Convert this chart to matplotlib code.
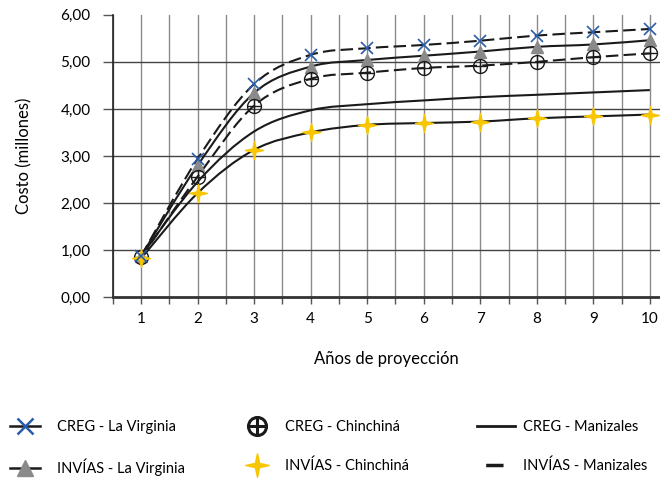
import numpy as np
import matplotlib
matplotlib.use('Agg')
from matplotlib import pyplot as plt
from matplotlib.path import Path
from matplotlib.patches import PathPatch
from matplotlib.lines import Line2D
from matplotlib.legend_handler import HandlerTuple

plt.rcParams['font.family'] = ['Lato', 'DejaVu Sans']

years = [1, 2, 3, 4, 5, 6, 7, 8, 9, 10]
creg_virginia = [0.87, 2.94, 4.53, 5.15, 5.29, 5.36, 5.45, 5.56, 5.63, 5.70]
invias_virginia = [0.87, 2.80, 4.34, 4.90, 5.04, 5.13, 5.22, 5.32, 5.37, 5.46]
creg_chinchina = [0.84, 2.56, 4.07, 4.64, 4.77, 4.87, 4.92, 5.00, 5.10, 5.18]
invias_chinchina = [0.82, 2.21, 3.13, 3.50, 3.66, 3.70, 3.73, 3.80, 3.84, 3.88]
creg_manizales = [0.87, 2.45, 3.52, 3.97, 4.10, 4.18, 4.25, 4.30, 4.35, 4.40]

ytick_labels = ['0,00', '1,00', '2,00', '3,00', '4,00', '5,00', '6,00']

blue = '#2a5caa'
gray_tri = '#8a8a8a'
yellow = '#f7c600'
dark = '#1a1a1a'

star4 = [(0, 1), (0.18, 0.18), (1, 0), (0.18, -0.18), (0, -1),
         (-0.18, -0.18), (-1, 0), (-0.18, 0.18), (0, 1)]


def smooth(ax, x, y, **kw):
    # Catmull-Rom curve drawn as cubic bezier path
    pts = np.column_stack([x, y]).astype(float)
    verts = [pts[0]]
    codes = [Path.MOVETO]
    n = len(pts)
    for i in range(n - 1):
        p0 = pts[max(i - 1, 0)]
        p1 = pts[i]
        p2 = pts[i + 1]
        p3 = pts[min(i + 2, n - 1)]
        c1 = p1 + (p2 - p0) / 6.0
        c2 = p2 - (p3 - p1) / 6.0
        verts += [c1, c2, p2]
        codes += [Path.CURVE4] * 3
    patch = PathPatch(Path(verts, codes), fill=False, **kw)
    ax.add_patch(patch)
    return patch


fig = plt.figure(figsize=(6.6, 4.79), dpi=100)
ax = fig.add_axes([0.171, 0.38, 0.829, 0.589])

dash = (0, (6, 2.5))
smooth(ax, years, creg_virginia, lw=1.5, ls=dash, ec=dark, zorder=3)
smooth(ax, years, invias_virginia, lw=1.5, ec=dark, zorder=3)
smooth(ax, years, creg_chinchina, lw=1.5, ls=dash, ec=dark, zorder=3)
smooth(ax, years, invias_chinchina, lw=1.5, ec=dark, zorder=3)
smooth(ax, years, creg_manizales, lw=1.5, ec=dark, zorder=3)

ax.plot(years, invias_virginia, ls='none', marker='^', ms=8,
        color=gray_tri, mec=gray_tri, zorder=4)
ax.plot(years, creg_chinchina, ls='none', marker='o', ms=10,
        mfc='none', mec=dark, mew=1.0, zorder=4)
ax.plot(years, creg_chinchina, ls='none', marker='+', ms=10,
        mec=dark, mew=1.0, zorder=4)
ax.plot(years, invias_chinchina, ls='none', marker=star4, ms=13,
        color=yellow, mec=yellow, zorder=4)
ax.plot(years, creg_virginia, ls='none', marker='x', ms=9,
        mew=1.2, color=blue, zorder=5)

ax.set_xlim(0.5, 10.18)
ax.set_ylim(0, 6)
ax.set_xticks(years)
ax.set_xticks(np.arange(0.5, 10.5, 0.5), minor=True)
ax.set_yticks(range(7))
ax.set_yticklabels(ytick_labels)
ax.tick_params(axis='x', which='both', length=5, width=1, color='#555555',
               labelsize=11, pad=6)
ax.tick_params(axis='y', length=7, width=1, color='#555555', labelsize=11, pad=9)

ax.grid(True, axis='y', color='#444444', lw=1)
ax.grid(True, axis='x', which='both', color='#8a8a8a', lw=1)
ax.yaxis.get_gridlines()[-1].set_visible(False)
ax.yaxis.get_gridlines()[0].set_visible(False)
ax.set_axisbelow(True)

for s in ['top', 'right']:
    ax.spines[s].set_visible(False)
ax.spines['left'].set_color('#222222')
ax.spines['left'].set_linewidth(1.2)
ax.spines['bottom'].set_color('#333333')
ax.spines['bottom'].set_linewidth(2)

ax.set_ylabel('Costo (millones)', fontsize=12, labelpad=20)
ax.set_xlabel('Años de proyección', fontsize=12, labelpad=18)

# legend, built as three columns
leg_kw = dict(loc='upper left', frameon=False, fontsize=10.5, labelspacing=1.65,
              borderpad=0, borderaxespad=0,
              handler_map={tuple: HandlerTuple(ndivide=1, pad=0)})
lv1 = (Line2D([], [], color=dark, lw=1.8),
       Line2D([], [], ls='none', marker='x', ms=11, mew=1.8, color=blue))
lv2 = (Line2D([], [], color=dark, lw=1.8),
       Line2D([], [], ls='none', marker='^', ms=12, color=gray_tri))
fig.legend([lv1, lv2], ['CREG - La Virginia', 'INVÍAS - La Virginia'],
           bbox_to_anchor=(0.015, 0.123), handlelength=2.06, handletextpad=1.17,
           **leg_kw)
ch1 = (Line2D([], [], ls='none', marker='o', ms=13, mfc='none', mec=dark, mew=2.2),
       Line2D([], [], ls='none', marker='+', ms=13, mec=dark, mew=2.2))
ch2 = Line2D([], [], ls='none', marker=star4, ms=17, color=yellow)
fig.legend([ch1, ch2], ['CREG - Chinchiná', 'INVÍAS - Chinchiná'],
           bbox_to_anchor=(0.374, 0.123), handlelength=1.4, handletextpad=1.24,
           **leg_kw)
mz1 = Line2D([], [], color=dark, lw=2)
mz2 = Line2D([], [], color=dark, lw=2.5, ls=(-2.5, (5, 20)))
fig.legend([mz1, mz2], ['CREG - Manizales', 'INVÍAS - Manizales'],
           bbox_to_anchor=(0.723, 0.123), handlelength=2.6, handletextpad=0.55,
           **leg_kw)

fig.savefig('out.png', dpi=100)
